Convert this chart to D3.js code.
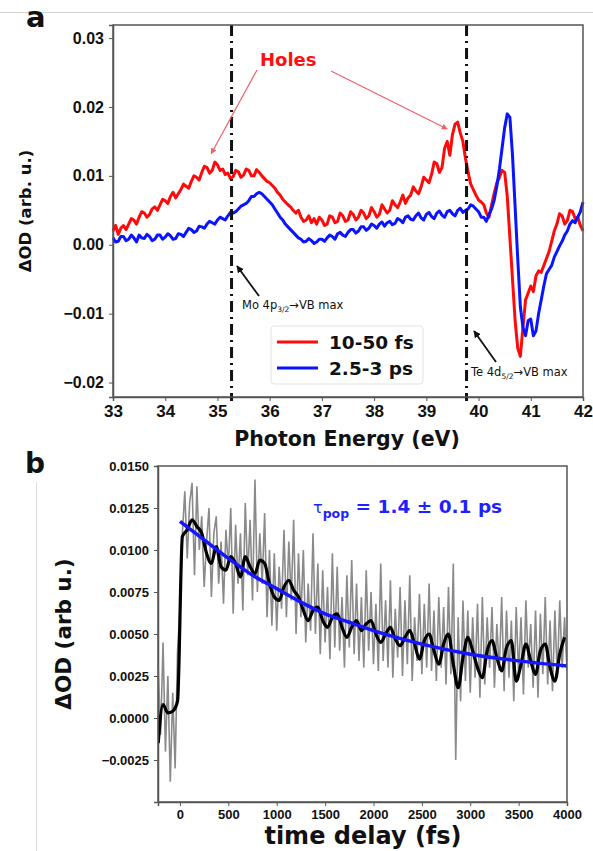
<!DOCTYPE html>
<html>
<head>
<meta charset="utf-8">
<script src="https://cdnjs.cloudflare.com/ajax/libs/d3/7.8.5/d3.min.js"></script>
<style>
    body { margin: 0; background: #fff; }
    svg { display: block; font-family: 'DejaVu Sans', sans-serif; }
    .tick text { font-weight: bold; fill: #111; }
    .domain, .tick line { stroke: #555; }
</style>
</head>
<body>
<svg id="chart" width="593" height="851"></svg>
<script>
'use strict';

// ---- panel a: transient spectra, 33 to 42 eV every 0.05 eV ----
const energyStart = 33, energyStep = 0.05;
const spectrumEarly = [ // 10-50 fs
    0.0020, 0.0028, 0.0015, 0.0024, 0.0028, 0.0022, 0.0030, 0.0038, 0.0036, 0.0030,
    0.0040, 0.0048, 0.0046, 0.0040, 0.0044, 0.0052, 0.0055, 0.0050, 0.0058, 0.0066,
    0.0064, 0.0060, 0.0070, 0.0076, 0.0068, 0.0074, 0.0080, 0.0088, 0.0085, 0.0082,
    0.0092, 0.0100, 0.0098, 0.0094, 0.0105, 0.0114, 0.0112, 0.0104, 0.0108, 0.0120,
    0.0116, 0.0108, 0.0110, 0.0102, 0.0104, 0.0096, 0.0099, 0.0108, 0.0106, 0.0098,
    0.0101, 0.0110, 0.0108, 0.0100, 0.0100, 0.0109, 0.0105, 0.0100, 0.0096, 0.0092,
    0.0090, 0.0086, 0.0082, 0.0076, 0.0072, 0.0066, 0.0062, 0.0058, 0.0055, 0.0050,
    0.0046, 0.0050, 0.0040, 0.0034, 0.0036, 0.0042, 0.0032, 0.0038, 0.0030, 0.0040,
    0.0036, 0.0028, 0.0030, 0.0042, 0.0040, 0.0032, 0.0034, 0.0046, 0.0042, 0.0034,
    0.0036, 0.0048, 0.0044, 0.0036, 0.0040, 0.0050, 0.0046, 0.0038, 0.0042, 0.0054,
    0.0048, 0.0040, 0.0044, 0.0058, 0.0052, 0.0046, 0.0050, 0.0064, 0.0058, 0.0054,
    0.0062, 0.0072, 0.0060, 0.0068, 0.0072, 0.0084, 0.0078, 0.0074, 0.0084, 0.0098,
    0.0094, 0.0090, 0.0102, 0.0120, 0.0118, 0.0105, 0.0112, 0.0140, 0.0150, 0.0130,
    0.0160, 0.0175, 0.0178, 0.0162, 0.0150, 0.0125, 0.0105, 0.0088, 0.0080, 0.0072,
    0.0065, 0.0062, 0.0058, 0.0046, 0.0040, 0.0058, 0.0075, 0.0090, 0.0098, 0.0108,
    0.0105, 0.0070, 0.0010, -0.0050, -0.0110, -0.0150, -0.0162, -0.0120, -0.0080, -0.0070,
    -0.0060, -0.0068, -0.0045, -0.0038, -0.0040, -0.0030, -0.0020, -0.0010, 0.0005, 0.0020,
    0.0030, 0.0045, 0.0042, 0.0030, 0.0035, 0.0050, 0.0048, 0.0038, 0.0040, 0.0028,
    0.0020
];
const spectrumLate = [ // 2.5-3 ps
    0.0010, 0.0004, 0.0005, 0.0012, 0.0012, 0.0006, 0.0008, 0.0014, 0.0010, 0.0004,
    0.0014, 0.0010, 0.0009, 0.0015, 0.0012, 0.0006, 0.0008, 0.0014, 0.0014, 0.0008,
    0.0011, 0.0016, 0.0013, 0.0008, 0.0009, 0.0016, 0.0015, 0.0012, 0.0018, 0.0024,
    0.0022, 0.0018, 0.0020, 0.0027, 0.0026, 0.0024, 0.0030, 0.0034, 0.0032, 0.0030,
    0.0036, 0.0040, 0.0038, 0.0036, 0.0042, 0.0047, 0.0046, 0.0048, 0.0052, 0.0056,
    0.0058, 0.0060, 0.0064, 0.0070, 0.0070, 0.0074, 0.0076, 0.0074, 0.0070, 0.0066,
    0.0062, 0.0058, 0.0052, 0.0046, 0.0040, 0.0036, 0.0030, 0.0026, 0.0022, 0.0018,
    0.0014, 0.0010, 0.0008, 0.0004, 0.0005, 0.0009, 0.0006, 0.0002, 0.0004, 0.0008,
    0.0008, 0.0005, 0.0010, 0.0014, 0.0012, 0.0008, 0.0016, 0.0018, 0.0014, 0.0012,
    0.0018, 0.0022, 0.0022, 0.0017, 0.0020, 0.0026, 0.0026, 0.0021, 0.0024, 0.0030,
    0.0028, 0.0024, 0.0030, 0.0033, 0.0027, 0.0032, 0.0034, 0.0029, 0.0031, 0.0038,
    0.0036, 0.0032, 0.0040, 0.0042, 0.0037, 0.0036, 0.0042, 0.0046, 0.0039, 0.0036,
    0.0044, 0.0047, 0.0041, 0.0038, 0.0046, 0.0049, 0.0043, 0.0040, 0.0048, 0.0050,
    0.0045, 0.0042, 0.0050, 0.0053, 0.0047, 0.0050, 0.0052, 0.0058, 0.0056, 0.0052,
    0.0048, 0.0040, 0.0040, 0.0034, 0.0044, 0.0052, 0.0065, 0.0085, 0.0110, 0.0140,
    0.0170, 0.0190, 0.0185, 0.0130, 0.0055, -0.0020, -0.0090, -0.0120, -0.0132, -0.0110,
    -0.0108, -0.0132, -0.0125, -0.0100, -0.0080, -0.0060, -0.0042, -0.0036, -0.0030, -0.0018,
    -0.0010, -0.0002, 0.0005, 0.0014, 0.0020, 0.0030, 0.0035, 0.0032, 0.0040, 0.0048,
    0.0062
];
const seriesNames = ['10-50 fs', '2.5-3 ps'];
const edgeEnergies = [35.27, 39.77];
const energyTicks = [33, 34, 35, 36, 37, 38, 39, 40, 41, 42];
const odTicksA = [-0.02, -0.01, 0.00, 0.01, 0.02, 0.03];

// ---- panel b: kinetics ----
const rawStart = -225, rawStep = 25;
const rawTrace = [
    0.0030, -0.0010, 0.0045, -0.0020, 0.0025, -0.0038, 0.0015, -0.0030, 0.0040, 0.0065,
    0.0110, 0.0135, 0.0095, 0.0128, 0.0140, 0.0085, 0.0138, 0.0100, 0.0120, 0.0078,
    0.0105, 0.0125, 0.0072, 0.0110, 0.0120, 0.0080, 0.0105, 0.0068, 0.0112, 0.0090,
    0.0125, 0.0062, 0.0115, 0.0080, 0.0110, 0.0064, 0.0128, 0.0085, 0.0118, 0.0070,
    0.0142, 0.0075, 0.0110, 0.0080, 0.0122, 0.0060, 0.0100, 0.0055, 0.0098, 0.0052,
    0.0090, 0.0065, 0.0112, 0.0060, 0.0105, 0.0070, 0.0118, 0.0050, 0.0098, 0.0060,
    0.0100, 0.0045, 0.0080, 0.0052, 0.0110, 0.0050, 0.0092, 0.0038, 0.0088, 0.0045,
    0.0078, 0.0035, 0.0098, 0.0042, 0.0090, 0.0040, 0.0072, 0.0030, 0.0085, 0.0042,
    0.0094, 0.0038, 0.0080, 0.0034, 0.0072, 0.0030, 0.0088, 0.0040, 0.0075, 0.0032,
    0.0068, 0.0028, 0.0092, 0.0034, 0.0070, 0.0030, 0.0082, 0.0024, 0.0065, 0.0036,
    0.0078, 0.0025, 0.0070, 0.0032, 0.0085, 0.0022, 0.0060, 0.0034, 0.0074, 0.0026,
    0.0068, 0.0030, 0.0080, 0.0028, 0.0064, 0.0022, 0.0072, 0.0030, 0.0066, 0.0020,
    0.0078, 0.0026, 0.0092, -0.0025, 0.0060, 0.0010, 0.0070, 0.0022, 0.0064, 0.0015,
    0.0060, 0.0024, 0.0068, 0.0012, 0.0072, 0.0020, 0.0060, 0.0030, 0.0066, 0.0018,
    0.0056, 0.0028, 0.0072, 0.0016, 0.0064, 0.0024, 0.0058, 0.0010, 0.0066, 0.0026,
    0.0060, 0.0014, 0.0070, 0.0030, 0.0056, 0.0018, 0.0064, 0.0012, 0.0062, 0.0026,
    0.0072, 0.0020, 0.0058, 0.0016, 0.0064, 0.0024, 0.0070, 0.0030, 0.0060, 0.0028
];
const smoothStart = -225, smoothStep = 50;
const smoothTrace = [
    -0.0015, 0.0008, 0.0003, 0.0004, 0.0010, 0.0108, 0.0112, 0.0118, 0.0114, 0.0110,
    0.0098, 0.0092, 0.0102, 0.0090, 0.0088, 0.0096, 0.0092, 0.0084, 0.0096, 0.0090,
    0.0086, 0.0094, 0.0092, 0.0080, 0.0072, 0.0070, 0.0078, 0.0082, 0.0076, 0.0072,
    0.0064, 0.0058, 0.0064, 0.0066, 0.0058, 0.0054, 0.0060, 0.0062, 0.0054, 0.0048,
    0.0054, 0.0058, 0.0052, 0.0056, 0.0058, 0.0050, 0.0045, 0.0050, 0.0054, 0.0047,
    0.0043, 0.0048, 0.0052, 0.0044, 0.0035, 0.0046, 0.0050, 0.0040, 0.0032, 0.0044,
    0.0050, 0.0032, 0.0018, 0.0036, 0.0048, 0.0040, 0.0030, 0.0024, 0.0040, 0.0046,
    0.0036, 0.0028, 0.0042, 0.0046, 0.0022, 0.0032, 0.0044, 0.0034, 0.0026, 0.0040,
    0.0044, 0.0030, 0.0022, 0.0038, 0.0048
];
const fitTimes = [0, 250, 500, 750, 1000, 1250, 1500, 1750, 2000, 2500, 3000, 3500, 4000];
const fitValues = [0.0117, 0.0106, 0.0095, 0.0085, 0.0077, 0.0069, 0.0062, 0.0057, 0.0052, 0.0044, 0.0038, 0.0034, 0.0031];
const timeTicks = [0, 500, 1000, 1500, 2000, 2500, 3000, 3500, 4000];
const odTicksB = [-0.0025, 0.0000, 0.0025, 0.0050, 0.0075, 0.0100, 0.0125, 0.0150];

const svg = d3.select('#chart');

// arrow heads
const defs = svg.append('defs');
[['arrRed', '#f0606a'], ['arrBlack', '#111']].forEach(([id, col]) => {
    defs.append('marker')
        .attr('id', id)
        .attr('viewBox', '0 0 10 10')
        .attr('refX', 9).attr('refY', 5)
        .attr('markerWidth', id === 'arrRed' ? 5 : 4)
        .attr('markerHeight', id === 'arrRed' ? 5 : 4)
        .attr('orient', 'auto')
        .append('path')
        .attr('d', 'M0,0 L10,5 L0,10 z')
        .attr('fill', col);
});

// faint page frame lines from the scan
svg.append('line').attr('x1', 0).attr('x2', 593).attr('y1', 12.5).attr('y2', 12.5)
    .attr('stroke', '#d4d4d4').attr('stroke-width', 1);
svg.append('line').attr('x1', 36.5).attr('x2', 36.5).attr('y1', 482).attr('y2', 851)
    .attr('stroke', '#dcdcdc').attr('stroke-width', 1);

function drawPanelA() {
    const m = { left: 113, top: 25, right: 583, bottom: 397 };
    const x = d3.scaleLinear().domain([33, 42]).range([m.left, m.right]);
    const y = d3.scaleLinear().domain([-0.0221, 0.0319]).range([m.bottom, m.top]);
    const g = svg.append('g');

    g.append('g')
        .attr('transform', `translate(0,${m.bottom})`)
        .call(d3.axisBottom(x).tickValues(energyTicks).tickFormat(d3.format('d')).tickSize(4).tickPadding(4))
        .call((a) => a.selectAll('text').style('font-size', '17px'))
        .call((a) => a.select('.domain').attr('stroke-width', 1.5));
    g.append('g')
        .attr('transform', `translate(${m.left},0)`)
        .call(d3.axisLeft(y).tickValues(odTicksA).tickFormat(d3.format('.2f')).tickSize(4).tickPadding(5))
        .call((a) => a.selectAll('text').style('font-size', '16px'))
        .call((a) => a.select('.domain').attr('stroke-width', 1.5));

    const line = d3.line()
        .x((d, i) => x(energyStart + i * energyStep))
        .y((d) => y(d));

    g.append('path').datum(spectrumEarly)
        .attr('d', line).attr('fill', 'none')
        .attr('stroke', '#ff0a0a').attr('stroke-width', 3).attr('stroke-linejoin', 'round');
    g.append('path').datum(spectrumLate)
        .attr('d', line).attr('fill', 'none')
        .attr('stroke', '#0a14ff').attr('stroke-width', 3).attr('stroke-linejoin', 'round');

    // dash-dot edge markers
    g.selectAll('.edge')
        .data(edgeEnergies)
        .enter()
        .append('line')
        .attr('x1', (d) => x(d)).attr('x2', (d) => x(d))
        .attr('y1', m.top).attr('y2', m.bottom + 4)
        .attr('stroke', '#111').attr('stroke-width', 3)
        .attr('stroke-dasharray', '11,5,2,5');

    g.append('rect')
        .attr('x', m.left).attr('y', m.top)
        .attr('width', m.right - m.left).attr('height', m.bottom - m.top)
        .attr('fill', 'none').attr('stroke', '#555').attr('stroke-width', 1.5);

    // Holes annotation
    g.append('text')
        .attr('x', 260).attr('y', 66)
        .attr('fill', '#ff1010').style('font-size', '18px').style('font-weight', 'bold')
        .text('Holes');
    g.append('line')
        .attr('x1', 257).attr('y1', 70).attr('x2', x(34.88)).attr('y2', y(0.0132))
        .attr('stroke', '#f0606a').attr('stroke-width', 1.2).attr('marker-end', 'url(#arrRed)');
    g.append('line')
        .attr('x1', 331).attr('y1', 71).attr('x2', x(39.4)).attr('y2', y(0.0168))
        .attr('stroke', '#f0606a').attr('stroke-width', 1.2).attr('marker-end', 'url(#arrRed)');

    // edge labels
    const moLab = g.append('text')
        .attr('x', 242).attr('y', 309)
        .attr('fill', '#111').style('font-size', '11.5px');
    moLab.append('tspan').text('Mo 4p');
    moLab.append('tspan').attr('dy', 3).style('font-size', '7.5px').text('3/2');
    moLab.append('tspan').attr('dy', -3).text('\u2192VB max');
    g.append('line')
        .attr('x1', 259).attr('y1', 296).attr('x2', 237).attr('y2', 266)
        .attr('stroke', '#111').attr('stroke-width', 1.8).attr('marker-end', 'url(#arrBlack)');

    const teLab = g.append('text')
        .attr('x', 471).attr('y', 376)
        .attr('fill', '#111').style('font-size', '11.5px');
    teLab.append('tspan').text('Te 4d');
    teLab.append('tspan').attr('dy', 3).style('font-size', '7.5px').text('5/2');
    teLab.append('tspan').attr('dy', -3).text('\u2192VB max');
    g.append('line')
        .attr('x1', 496).attr('y1', 362).attr('x2', 474).attr('y2', 331)
        .attr('stroke', '#111').attr('stroke-width', 1.8).attr('marker-end', 'url(#arrBlack)');

    // legend
    const lg = g.append('g').attr('transform', 'translate(271,326)');
    lg.append('rect')
        .attr('width', 152).attr('height', 58).attr('rx', 3)
        .attr('fill', '#fff').attr('stroke', '#e2e2e2');
    const colors = ['#ff0a0a', '#0a14ff'];
    const items = lg.selectAll('.item')
        .data(seriesNames)
        .enter()
        .append('g')
        .attr('transform', (d, i) => `translate(0,${16 + i * 26})`);
    items.append('line')
        .attr('x1', 6).attr('x2', 47)
        .attr('stroke', (d, i) => colors[i]).attr('stroke-width', 3);
    items.append('text')
        .attr('x', 58).attr('y', 7)
        .style('font-size', '18.5px').style('font-weight', 'bold').attr('fill', '#111')
        .text((d) => d);

    // axis titles
    g.append('text')
        .attr('x', (m.left + m.right) / 2 - 1).attr('y', 446)
        .attr('text-anchor', 'middle')
        .style('font-size', '20.5px').style('font-weight', 'bold').attr('fill', '#111')
        .text('Photon Energy (eV)');
    g.append('text')
        .attr('transform', `translate(31,${(m.top + m.bottom) / 2}) rotate(-90)`)
        .attr('text-anchor', 'middle')
        .style('font-size', '16.5px').style('font-weight', 'bold').attr('fill', '#111')
        .text('\u0394OD (arb. u.)');

    g.append('text')
        .attr('x', 26).attr('y', 27)
        .style('font-size', '29px').style('font-weight', 'bold').attr('fill', '#111')
        .text('a');
}

function drawPanelB() {
    const m = { left: 158, top: 466, right: 567, bottom: 802 };
    const x = d3.scaleLinear().domain([-227, 4000]).range([m.left, m.right]);
    const y = d3.scaleLinear().domain([-0.005, 0.015]).range([m.bottom, m.top]);
    const g = svg.append('g');

    g.append('g')
        .attr('transform', `translate(0,${m.bottom})`)
        .call(d3.axisBottom(x).tickValues(timeTicks).tickFormat(d3.format('d')).tickSize(4).tickPadding(4))
        .call((a) => a.selectAll('text').style('font-size', '13px'))
        .call((a) => a.select('.domain').attr('stroke-width', 1.5));
    g.append('g')
        .attr('transform', `translate(${m.left},0)`)
        .call(d3.axisLeft(y).tickValues(odTicksB).tickFormat(d3.format('.4f')).tickSize(4).tickPadding(5))
        .call((a) => a.selectAll('text').style('font-size', '13px'))
        .call((a) => a.select('.domain').attr('stroke-width', 1.5));

    const clip = defs.append('clipPath').attr('id', 'clipB');
    clip.append('rect')
        .attr('x', m.left).attr('y', m.top)
        .attr('width', m.right - m.left).attr('height', m.bottom - m.top);
    const plot = g.append('g').attr('clip-path', 'url(#clipB)');

    plot.append('path').datum(rawTrace)
        .attr('d', d3.line()
            .x((d, i) => x(rawStart + i * rawStep))
            .y((d) => y(d)))
        .attr('fill', 'none').attr('stroke', '#8a8a8a').attr('stroke-width', 1.6);
    plot.append('path').datum(smoothTrace)
        .attr('d', d3.line()
            .x((d, i) => x(smoothStart + i * smoothStep))
            .y((d) => y(d))
            .curve(d3.curveMonotoneX))
        .attr('fill', 'none').attr('stroke', '#000').attr('stroke-width', 3.2);
    plot.append('path').datum(fitValues)
        .attr('d', d3.line()
            .x((d, i) => x(fitTimes[i]))
            .y((d) => y(d))
            .curve(d3.curveMonotoneX))
        .attr('fill', 'none').attr('stroke', '#1616ff').attr('stroke-width', 3.5);

    g.append('rect')
        .attr('x', m.left).attr('y', m.top)
        .attr('width', m.right - m.left).attr('height', m.bottom - m.top)
        .attr('fill', 'none').attr('stroke', '#555').attr('stroke-width', 1.5);

    const tau = g.append('text')
        .attr('x', 313).attr('y', 513)
        .attr('fill', '#1f1fff').style('font-weight', 'bold');
    tau.append('tspan').style('font-size', '16px').style('font-weight', 'normal').text('\u03c4');
    tau.append('tspan').attr('dy', 5).style('font-size', '12.5px').text('pop');
    tau.append('tspan').attr('dy', -5).style('font-size', '18.5px').text(' = 1.4 \u00b1 0.1 ps');

    g.append('text')
        .attr('x', 363).attr('y', 844)
        .attr('text-anchor', 'middle')
        .style('font-size', '24px').style('font-weight', 'bold').attr('fill', '#111')
        .text('time delay (fs)');
    g.append('text')
        .attr('transform', `translate(71,${(m.top + m.bottom) / 2}) rotate(-90)`)
        .attr('text-anchor', 'middle')
        .style('font-size', '21.5px').style('font-weight', 'bold').attr('fill', '#111')
        .text('\u0394OD (arb u.)');

    g.append('text')
        .attr('x', 25).attr('y', 473)
        .style('font-size', '28px').style('font-weight', 'bold').attr('fill', '#111')
        .text('b');
}

drawPanelA();
drawPanelB();
</script>
</body>
</html>
